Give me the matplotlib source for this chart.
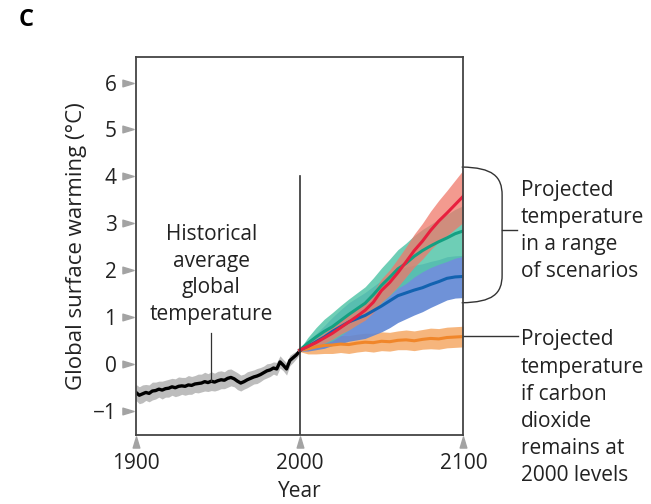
import numpy as np
import matplotlib
matplotlib.use('Agg')
import matplotlib.pyplot as plt
from matplotlib.path import Path
from matplotlib.patches import PathPatch

plt.rcParams['font.family'] = ['Open Sans', 'DejaVu Sans']

# historical record, every 2 years 1900-2000
hist_years = np.arange(1900, 2001, 2)
hist_temp = [-0.60, -0.66, -0.63, -0.60, -0.62, -0.57, -0.56, -0.53, -0.55, -0.52,
             -0.51, -0.48, -0.50, -0.47, -0.46, -0.47, -0.44, -0.45, -0.42, -0.41,
             -0.40, -0.37, -0.39, -0.36, -0.38, -0.35, -0.33, -0.34, -0.30, -0.28,
             -0.31, -0.36, -0.40, -0.37, -0.33, -0.30, -0.27, -0.25, -0.22, -0.18,
             -0.14, -0.12, -0.08, -0.10, 0.05, -0.02, -0.10, 0.08, 0.14, 0.20, 0.28]
hist_spread = [0.17, 0.18, 0.19, 0.17, 0.18, 0.19, 0.18, 0.17, 0.19, 0.18,
               0.19, 0.18, 0.19, 0.20, 0.18, 0.19, 0.20, 0.19, 0.18, 0.20,
               0.19, 0.20, 0.19, 0.20, 0.19, 0.20, 0.19, 0.18, 0.19, 0.18,
               0.17, 0.18, 0.17, 0.16, 0.17, 0.16, 0.15, 0.16, 0.15, 0.14,
               0.15, 0.14, 0.13, 0.14, 0.13, 0.12, 0.13, 0.11, 0.10, 0.08, 0.06]

# projections, every 5 years 2000-2100
proj_years = np.arange(2000, 2101, 5)
red_temp = [0.30, 0.38, 0.46, 0.56, 0.66, 0.78, 0.90, 1.02, 1.15, 1.32, 1.57,
            1.74, 1.95, 2.18, 2.42, 2.62, 2.85, 3.05, 3.22, 3.40, 3.58]
red_spread = [0.02, 0.07, 0.09, 0.11, 0.13, 0.14, 0.17, 0.18, 0.21, 0.22, 0.25,
              0.27, 0.30, 0.32, 0.35, 0.38, 0.41, 0.44, 0.48, 0.52, 0.56]
green_temp = [0.30, 0.45, 0.58, 0.70, 0.80, 0.93, 1.06, 1.18, 1.30, 1.48, 1.68,
              1.85, 2.03, 2.15, 2.30, 2.42, 2.52, 2.61, 2.69, 2.78, 2.84]
green_spread = [0.02, 0.12, 0.20, 0.26, 0.30, 0.32, 0.33, 0.34, 0.35, 0.36, 0.37,
                0.39, 0.41, 0.43, 0.44, 0.45, 0.46, 0.48, 0.50, 0.52, 0.54]
blue_temp = [0.30, 0.38, 0.48, 0.58, 0.70, 0.80, 0.90, 0.97, 1.04, 1.14, 1.24,
             1.35, 1.46, 1.52, 1.58, 1.63, 1.70, 1.76, 1.83, 1.86, 1.87]
blue_spread = [0.02, 0.10, 0.17, 0.24, 0.30, 0.36, 0.41, 0.45, 0.49, 0.52, 0.55,
               0.57, 0.57, 0.55, 0.53, 0.51, 0.49, 0.47, 0.46, 0.45, 0.45]
orange_temp = [0.30, 0.33, 0.37, 0.40, 0.41, 0.43, 0.42, 0.45, 0.47, 0.46, 0.49,
               0.48, 0.51, 0.52, 0.50, 0.53, 0.55, 0.54, 0.57, 0.58, 0.59]
orange_spread = [0.03, 0.11, 0.15, 0.17, 0.18, 0.18, 0.19, 0.19, 0.19, 0.20, 0.20,
                 0.20, 0.20, 0.21, 0.21, 0.21, 0.22, 0.22, 0.22, 0.22, 0.22]

x_ticks = [1900, 2000, 2100]
y_ticks = [-1, 0, 1, 2, 3, 4, 5, 6]

fig = plt.figure(figsize=(6.51, 5.04), dpi=100)
ax = fig.add_axes([0.2089, 0.1375, 0.5028, 0.75])

def band(x, y, s, color, alpha):
    y = np.array(y)
    s = np.array(s)
    ax.fill_between(x, y - s, y + s, color=color, alpha=alpha, lw=0)

band(hist_years, hist_temp, hist_spread, '#bdbdbd', 1.0)
ax.plot(hist_years, hist_temp, color='black', lw=2.4)

band(proj_years, orange_temp, orange_spread, '#f6ad6e', 0.9)
band(proj_years, blue_temp, blue_spread, '#5f86d4', 0.9)
band(proj_years, green_temp, green_spread, '#55c6a9', 0.85)
band(proj_years, red_temp, red_spread, '#f0786a', 0.75)
ax.plot(proj_years, orange_temp, color='#f0862a', lw=2.2)
ax.plot(proj_years, blue_temp, color='#1262b0', lw=2.2)
ax.plot(proj_years, green_temp, color='#14a082', lw=2.2)
ax.plot(proj_years, red_temp, color='#e8203e', lw=2.2)

# divider at year 2000
ax.plot([2000, 2000], [-1.5, 4.0], color='#333333', lw=1.2)

ax.set_xlim(1900, 2100)
ax.set_ylim(-1.5, 6.55)
ax.set_xticks(x_ticks)
ax.set_yticks(y_ticks)
ax.set_yticklabels(['\u22121', '0', '1', '2', '3', '4', '5', '6'])
ax.tick_params(length=0, labelsize=15, colors='#222222')
ax.tick_params(axis='y', pad=14)
ax.tick_params(axis='x', pad=13)
for sp in ax.spines.values():
    sp.set_color('#444444')
    sp.set_linewidth(1.3)

# gray triangle tick marks
tri_r = Path([(-1, -0.6), (1, 0), (-1, 0.6), (-1, -0.6)],
             [Path.MOVETO, Path.LINETO, Path.LINETO, Path.CLOSEPOLY])
tri_u = Path([(-0.6, -1), (0, 1), (0.6, -1), (-0.6, -1)],
             [Path.MOVETO, Path.LINETO, Path.LINETO, Path.CLOSEPOLY])
ax.plot([-0.024] * len(y_ticks), y_ticks, ls='none', marker=tri_r, ms=8,
        color='#a3a3a3', transform=ax.get_yaxis_transform(), clip_on=False)
ax.plot(x_ticks, [-0.02] * len(x_ticks), ls='none', marker=tri_u, ms=8,
        color='#a3a3a3', transform=ax.get_xaxis_transform(), clip_on=False)

ax.set_xlabel('Year', fontsize=15, color='#222222', labelpad=5)
ax.set_ylabel('Global surface warming (\u00b0C)', fontsize=16, color='#222222', labelpad=4)

# annotations
ax.text(1946, 1.91, 'Historical\naverage\nglobal\ntemperature', fontsize=15,
        ha='center', va='center', linespacing=1.36, color='#222222')
ax.plot([1946, 1946], [0.66, -0.36], color='#333333', lw=0.9)

brace = Path([(2099, 4.20), (2118, 4.19), (2123.7, 4.0), (2123.7, 3.6),
              (2123.7, 1.9), (2123.7, 1.5), (2118, 1.32), (2099, 1.31)],
             [Path.MOVETO, Path.CURVE4, Path.CURVE4, Path.CURVE4,
              Path.LINETO, Path.CURVE4, Path.CURVE4, Path.CURVE4])
ax.add_patch(PathPatch(brace, fc='none', ec='#333333', lw=1.0, clip_on=False))
ax.plot([2123.7, 2132.8], [2.86, 2.86], color='#333333', lw=1.0, clip_on=False)
ax.text(2135, 2.84, 'Projected\ntemperature\nin a range\nof scenarios', fontsize=15,
        ha='left', va='center', linespacing=1.36, color='#222222')

ax.plot([2100, 2133.6], [0.60, 0.60], color='#333333', lw=1.0, clip_on=False)
ax.text(2135, 0.52, 'Projected', fontsize=15, ha='left', va='center', color='#222222')
ax.text(2135, 0.15, 'temperature\nif carbon\ndioxide\nremains at\n2000 levels', fontsize=15,
        ha='left', va='top', linespacing=1.37, color='#222222')

fig.text(0.028, 0.96, 'C', fontsize=17, fontweight='bold', ha='left', va='center')

fig.savefig('out.png', dpi=100)
